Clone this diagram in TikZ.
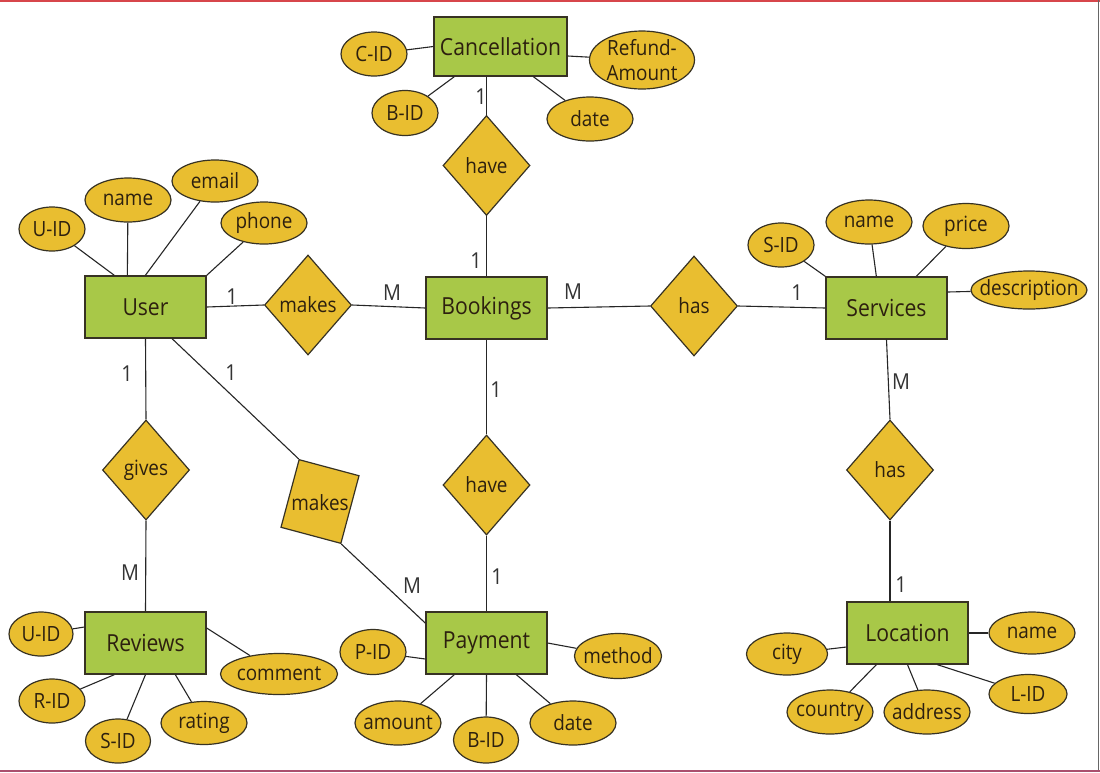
\documentclass[tikz,border=0pt]{standalone}
\usepackage{fontspec}
\setmainfont{Open Sans}[FakeStretch=0.9]
\usetikzlibrary{shapes.geometric,calc}
\definecolor{entfill}{RGB}{168,200,72}
\definecolor{attrfill}{RGB}{233,190,48}
\definecolor{edgec}{RGB}{55,50,35}
\definecolor{txt}{RGB}{45,32,15}
\begin{document}
\begin{tikzpicture}[x=1pt,y=-1pt,
 entity/.style={draw=edgec, line width=1.3pt, fill=entfill, minimum width=121pt, minimum height=62pt, inner sep=0pt, text=txt, font=\fontsize{23.5}{26}\selectfont},
 attr/.style={ellipse, draw=edgec, line width=1.2pt, fill=attrfill, inner xsep=-12pt, inner ysep=-4pt, text=txt, font=\fontsize{21}{23}\selectfont},
 rel/.style={diamond, draw=edgec, line width=1.2pt, fill=attrfill, inner sep=0pt, minimum width=87pt, minimum height=100pt, text=txt, font=\fontsize{21}{23}\selectfont},
 conn/.style={line width=1.1pt, draw=black!85},
 card/.style={font=\fontsize{22}{24}\selectfont, text=black!80, inner sep=0pt}
]
\useasboundingbox (0,0) rectangle (1100,772);
\fill[white] (0,0) rectangle (1100,772);
% frame
\draw[line width=2pt, color={rgb,255:red,215;green,70;blue,75}] (0,1) -- (1100,1);
\draw[line width=1.5pt, color=black!60] (1098.5,0) -- (1098.5,772);
\draw[line width=2pt, color={rgb,255:red,170;green,80;blue,110}] (0,770.5) -- (1100,770.5);

% entities
\node[entity, minimum width=133pt, minimum height=59pt] (canc) at (500.5,46.5) {Cancellation};
\node[entity] (bk) at (486.5,308) {Bookings};
\node[entity] (user) at (145.5,307) {User};
\node[entity] (srv) at (886.5,308) {Services};
\node[entity] (rev) at (145.5,643) {Reviews};
\node[entity] (pay) at (486.5,643) {Payment};
\node[entity] (loc) at (907.5,633) {Location};

% relationships
\node[rel] (have1) at (486.5,165.5) {have};
\node[rel] (mk1) at (308,305) {makes};
\node[rel] (has1) at (694,306) {has};
\node[rel] (gives) at (146,470) {gives};
\node[rel] (have2) at (486.5,485) {have};
\node[rel] (has2) at (890,470) {has};
\node[draw=edgec, line width=1.2pt, fill=attrfill, minimum width=62pt, minimum height=70pt, rotate=-15] (mk2) at (320,501.5) {};
\node[text=txt, font=\fontsize{21}{23}\selectfont, inner sep=0pt] (mk2t) at (320,503) {makes};

% attributes: User
\node[attr, minimum width=66pt, minimum height=44pt] (uid) at (52,229) {U-ID};
\node[attr, minimum width=86pt, minimum height=44pt] (uname) at (128,200) {name};
\node[attr, minimum width=86pt, minimum height=42pt] (uemail) at (215,181) {email};
\node[attr, minimum width=86pt, minimum height=42pt] (uphone) at (264,223) {phone};
% Cancellation
\node[attr, minimum width=66pt, minimum height=44pt] (cid) at (374,54) {C-ID};
\node[attr, minimum width=66pt, minimum height=45pt] (cbid) at (405,113) {B-ID};
\node[attr, minimum width=86pt, minimum height=44pt] (cdate) at (590,119) {date};
\node[attr, minimum width=105pt, minimum height=58pt, align=center, font=\fontsize{21}{25}\selectfont] (refund) at (642,60) {Refund-\\Amount};
% Services
\node[attr, minimum width=66pt, minimum height=44pt] (sid) at (781,245) {S-ID};
\node[attr, minimum width=86pt, minimum height=44pt] (sname) at (869,222) {name};
\node[attr, minimum width=86pt, minimum height=45pt] (price) at (966,226) {price};
\node[attr, minimum width=116pt, minimum height=38pt] (desc) at (1029,290) {description};
% Reviews
\node[attr, minimum width=64pt, minimum height=44pt] (ruid) at (41,634) {U-ID};
\node[attr, minimum width=66pt, minimum height=44pt] (rrid) at (52,701) {R-ID};
\node[attr, minimum width=65pt, minimum height=44pt] (rsid) at (118,741) {S-ID};
\node[attr, minimum width=86pt, minimum height=43pt] (rating) at (204,723) {rating};
\node[attr, minimum width=117pt, minimum height=41pt] (comment) at (279,674) {comment};
% Payment
\node[attr, minimum width=66pt, minimum height=45pt] (pid) at (373,652) {P-ID};
\node[attr, minimum width=86pt, minimum height=44pt] (amount) at (398,723) {amount};
\node[attr, minimum width=65pt, minimum height=46pt] (pbid) at (486,740) {B-ID};
\node[attr, minimum width=86pt, minimum height=44pt] (pdate) at (573,723) {date};
\node[attr, minimum width=87pt, minimum height=45pt] (method) at (618,656) {method};
% Location
\node[attr, minimum width=81pt, minimum height=42pt] (city) at (787,654) {city};
\node[attr, minimum width=86pt, minimum height=44pt] (country) at (830,712) {country};
\node[attr, minimum width=86pt, minimum height=44pt] (address) at (927,712) {address};
\node[attr, minimum width=78pt, minimum height=39pt] (lid) at (1028,694) {L-ID};
\node[attr, minimum width=86pt, minimum height=42pt] (lname) at (1032,633) {name};

% attribute connectors
\draw[conn] (uid) -- ($(user.north west)+(30,0)$);
\draw[conn] (uname) -- ($(user.north west)+(43,0)$);
\draw[conn] (uemail) -- ($(user.north west)+(61,0)$);
\draw[conn] (uphone) -- (user.north east);

\draw[conn] (cid) -- (canc.west);
\draw[conn] (cbid) -- ($(canc.south west)+(21,0)$);
\draw[conn] (cdate) -- ($(canc.south west)+(100,0)$);
\draw[conn] (refund) -- ($(canc.east)+(0,9.5)$);

\draw[conn] (sid) -- (srv.north west);
\draw[conn] (sname) -- ($(srv.north west)+(51,0)$);
\draw[conn] (price) -- ($(srv.north west)+(91,0)$);
\draw[conn] (desc) -- ($(srv.east)+(0,-16)$);

\draw[conn] (ruid) -- ($(rev.west)+(0,-16)$);
\draw[conn] (rrid) -- ($(rev.south west)+(30,0)$);
\draw[conn] (rsid) -- (rev.south);
\draw[conn] (rating) -- ($(rev.south west)+(91,0)$);
\draw[conn] (comment) -- ($(rev.east)+(0,-15)$);

\draw[conn] (pid) -- ($(pay.west)+(0,16)$);
\draw[conn] (amount) -- ($(pay.south west)+(29,0)$);
\draw[conn] (pbid) -- (pay.south);
\draw[conn] (pdate) -- ($(pay.south west)+(91,0)$);
\draw[conn] (method) -- (pay.east);

\draw[conn] (city) -- ($(loc.west)+(0,14)$);
\draw[conn] (country) -- ($(loc.south west)+(30,0)$);
\draw[conn] (address) -- (loc.south);
\draw[conn] (lid) -- ($(loc.south west)+(91,0)$);
\draw[conn] (lname) -- (loc.east);

% relationship connectors
\draw[conn] (have1.north) -- (have1.north |- canc.south);
\draw[conn] (have1.south) -- (bk.north);
\draw[conn] (user.east) -- (mk1.west);
\draw[conn] (mk1.east) -- (bk.west);
\draw[conn] (bk.east) -- (has1.west);
\draw[conn] (has1.east) -- (srv.west);
\draw[conn] (bk.south) -- (have2.north);
\draw[conn] (have2.south) -- (pay.north);
\draw[conn] (user.south) -- (gives.north);
\draw[conn] (gives.south) -- (rev.north);
\draw[conn] (user.-50) -- (mk2.north west);
\draw[conn] (mk2.south east) -- (pay.162);
\draw[conn] (srv.south) -- (has2.north);
\draw[conn] (has2.south) -- (has2.south |- loc.north);

% cardinalities
\node[card] (k1) at (481,97) {1};
\node[card] (k2) at (476,261) {1};
\node[card] (k3) at (232,297) {1};
\node[card] (k4) at (392,293) {M};
\node[card] (k5) at (573,292) {M};
\node[card] (k6) at (797,293) {1};
\node[card] (k7) at (127,374) {1};
\node[card] (k8) at (231,373) {1};
\node[card] (k9) at (496,390) {1};
\node[card] (k10) at (901,382) {M};
\node[card] (k11) at (130,573) {M};
\node[card] (k12) at (412,586) {M};
\node[card] (k13) at (497,577) {1};
\node[card] (k14) at (901,585) {1};
\end{tikzpicture}
\end{document}
